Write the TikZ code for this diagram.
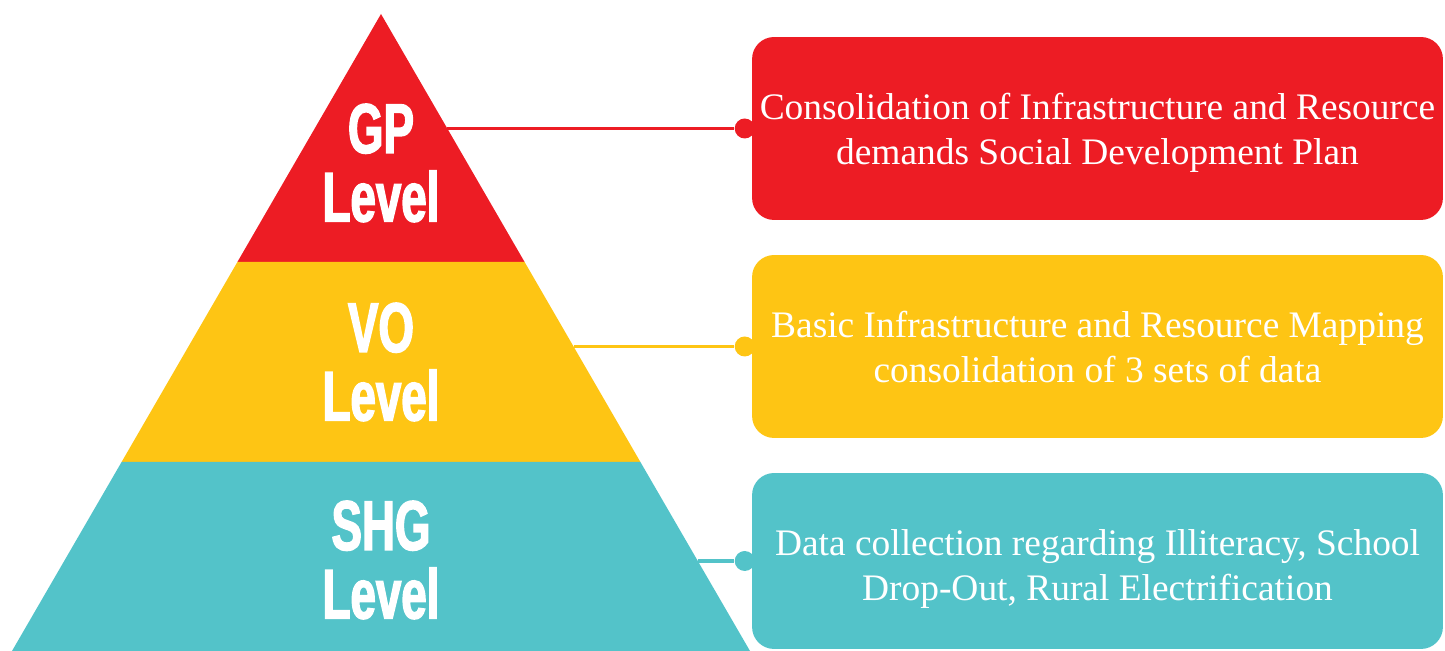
\documentclass[tikz,border=0pt]{standalone}
\usepackage{fontspec}
\setmainfont{Liberation Serif}
\newfontfamily\levelfont[FakeStretch=0.65, BoldFeatures={FakeBold=2}]{Liberation Sans}
\usepackage{tikz}
\usetikzlibrary{positioning}
\definecolor{PyrRed}{RGB}{237,28,36}
\definecolor{PyrYellow}{RGB}{254,197,20}
\definecolor{PyrTeal}{RGB}{83,195,201}

\begin{document}
\begin{tikzpicture}[x=0.02cm, y=-0.02cm]
      \tikzset{
        tier/.style={text=white, align=center, inner sep=0pt, font=\levelfont\bfseries\fontsize{40}{39}\selectfont},
        plan/.style={rounded corners=0.44cm, minimum width=13.82cm, minimum height=3.66cm, inner sep=0pt},
        plantext/.style={align=center, text=white, inner sep=0pt, font=\fontsize{21.3}{25.6}\selectfont},
        link/.style={line width=2.1pt},
        dot/.style={circle, inner sep=0pt, minimum size=0.4cm}
      }
      \useasboundingbox (0,0) rectangle (1445,651);

      % pyramid layers
      \fill[PyrRed] (381,14) -- (524.6,262) -- (237.4,262) -- cycle;
      \fill[PyrYellow] (237.4,262) -- (524.6,262) -- (640.4,462) -- (121.6,462) -- cycle;
      \fill[PyrTeal] (121.6,462) -- (640.4,462) -- (750,651) -- (12,651) -- cycle;

      \node[tier] (gp) at (381,163) {GP\\Level};
      \node[tier] (vo) at (381,362) {VO\\Level};
      \node[tier] (shg) at (381,560) {SHG\\Level};

      % plan boxes
      \node[plan, fill=PyrRed] (gpbox) at (1097.5,128.5) {};
      \node[plan, fill=PyrYellow] (vobox) at (1097.5,346.5) {};
      \node[plan, fill=PyrTeal, minimum height=3.52cm] (shgbox) at (1097.5,561) {};

      \node[plantext] (gptext) at ([yshift=-0.09cm]gpbox.center) {Consolidation of Infrastructure and Resource\\demands Social Development Plan};
      \node[plantext] (votext) at ([yshift=-0.01cm]vobox.center) {Basic Infrastructure and Resource Mapping\\consolidation of 3 sets of data};
      \node[plantext] (shgtext) at ([yshift=-0.16cm]shgbox.center) {Data collection regarding Illiteracy, School\\Drop-Out, Rural Electrification};

      \coordinate (gpedge) at (447.3,128.5);
      \coordinate (voedge) at (573.5,346.5);
      \coordinate (shgedge) at (697.7,561);

      \node[dot, fill=PyrRed] (gpdot) at ([xshift=-0.14cm]gpbox.west) {};
      \node[dot, fill=PyrYellow] (vodot) at ([xshift=-0.14cm]vobox.west) {};
      \node[dot, fill=PyrTeal] (shgdot) at ([xshift=-0.14cm]shgbox.west) {};

      \draw[link, PyrRed] (gpedge) -- (gpdot);
      \draw[link, PyrYellow] (voedge) -- (vodot);
      \draw[link, PyrTeal] (shgedge) -- (shgdot);
    \end{tikzpicture}
\end{document}
